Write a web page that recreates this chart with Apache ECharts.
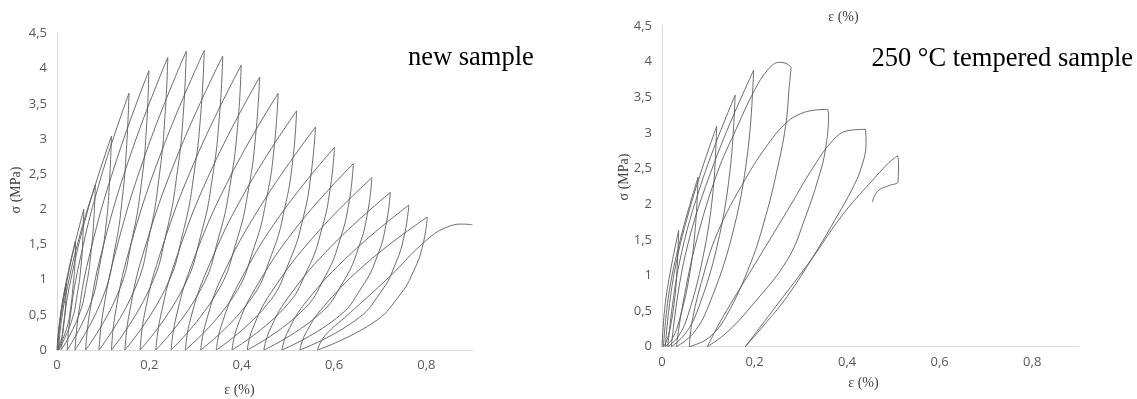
<!DOCTYPE html>
<html>
<head>
<meta charset="utf-8">
<script src="https://cdn.jsdelivr.net/npm/echarts@6/dist/echarts.min.js"></script>
<style>
html,body{margin:0;padding:0;background:#fff;}
#chart{width:1137px;height:399px;}
</style>
</head>
<body>
<div id="chart"></div>
<script>
// Tick values and labels
const xTicks = [0, 0.2, 0.4, 0.6, 0.8];
const xTickLabels = ['0', '0,2', '0,4', '0,6', '0,8'];
const yTicks = [0, 0.5, 1, 1.5, 2, 2.5, 3, 3.5, 4, 4.5];
const yTickLabels = ['0', '0,5', '1', '1,5', '2', '2,5', '3', '3,5', '4', '4,5'];

// New sample: loading branches (strain %, stress MPa)
const newLoading = [
  [[0,0],[0.001,0.11],[0.004,0.31],[0.011,0.64],[0.02,0.95]],
  [[0.001,0],[0.003,0.19],[0.008,0.51],[0.022,1.04],[0.04,1.55]],
  [[0.002,0],[0.004,0.24],[0.013,0.66],[0.033,1.34],[0.058,2.0]],
  [[0.004,0],[0.007,0.28],[0.019,0.78],[0.047,1.57],[0.083,2.35]],
  [[0.009,0],[0.014,0.36],[0.030,1.0],[0.069,2.04],[0.118,3.04]],
  [[0.022,0],[0.028,0.44],[0.047,1.2],[0.095,2.45],[0.156,3.65]],
  [[0.039,0],[0.046,0.48],[0.069,1.31],[0.127,2.66],[0.199,3.97]],
  [[0.062,0],[0.070,0.5],[0.096,1.37],[0.160,2.79],[0.240,4.16]],
  [[0.091,0],[0.099,0.51],[0.127,1.4],[0.195,2.85],[0.280,4.25]],
  [[0.118,0],[0.126,0.51],[0.156,1.41],[0.228,2.85],[0.319,4.26]],
  [[0.147,0],[0.156,0.5],[0.187,1.38],[0.263,2.8],[0.359,4.18]],
  [[0.180,0],[0.189,0.49],[0.222,1.34],[0.300,2.71],[0.399,4.05]],
  [[0.214,0],[0.224,0.47],[0.257,1.28],[0.337,2.6],[0.439,3.88]],
  [[0.247,0],[0.257,0.44],[0.291,1.2],[0.374,2.45],[0.479,3.65]],
  [[0.278,0],[0.288,0.41],[0.324,1.12],[0.410,2.28],[0.519,3.4]],
  [[0.311,0],[0.322,0.38],[0.358,1.05],[0.448,2.12],[0.560,3.17]],
  [[0.345,0],[0.356,0.35],[0.394,0.95],[0.485,1.93],[0.601,2.88]],
  [[0.379,0],[0.390,0.32],[0.429,0.87],[0.523,1.78],[0.642,2.65]],
  [[0.412,0],[0.423,0.29],[0.463,0.81],[0.560,1.64],[0.682,2.45]],
  [[0.448,0],[0.460,0.27],[0.500,0.74],[0.598,1.5],[0.722,2.24]],
  [[0.487,0],[0.499,0.25],[0.539,0.68],[0.638,1.38],[0.762,2.06]],
  [[0.526,0],[0.538,0.23],[0.578,0.62],[0.677,1.27],[0.802,1.89]],
  [[0.564,0],[0.58,0.2],[0.63,0.5],[0.72,1.04],[0.8,1.56],[0.85,1.76],[0.88,1.79],[0.9,1.78]]
];
// New sample: unloading branches
const newUnloading = [
  [[0.02,0.95],[0.019,0.76],[0.018,0.57],[0.015,0.38],[0.011,0.19],[0.001,0]],
  [[0.04,1.55],[0.039,1.24],[0.035,0.93],[0.030,0.62],[0.021,0.31],[0.002,0]],
  [[0.058,2.0],[0.056,1.6],[0.052,1.2],[0.044,0.8],[0.031,0.4],[0.004,0]],
  [[0.083,2.35],[0.080,1.88],[0.074,1.41],[0.064,0.94],[0.046,0.47],[0.009,0]],
  [[0.118,3.04],[0.114,2.43],[0.107,1.82],[0.093,1.22],[0.070,0.61],[0.022,0]],
  [[0.156,3.65],[0.151,2.92],[0.142,2.19],[0.126,1.46],[0.098,0.73],[0.039,0]],
  [[0.199,3.97],[0.194,3.18],[0.183,2.38],[0.163,1.59],[0.131,0.79],[0.062,0]],
  [[0.240,4.16],[0.234,3.33],[0.222,2.5],[0.201,1.66],[0.166,0.83],[0.091,0]],
  [[0.280,4.25],[0.274,3.4],[0.261,2.55],[0.238,1.7],[0.199,0.85],[0.118,0]],
  [[0.319,4.26],[0.312,3.41],[0.298,2.56],[0.274,1.7],[0.233,0.85],[0.147,0]],
  [[0.359,4.18],[0.352,3.34],[0.338,2.51],[0.313,1.67],[0.270,0.84],[0.180,0]],
  [[0.399,4.05],[0.392,3.24],[0.377,2.43],[0.351,1.62],[0.307,0.81],[0.214,0]],
  [[0.439,3.88],[0.431,3.1],[0.416,2.33],[0.389,1.55],[0.343,0.78],[0.247,0]],
  [[0.479,3.65],[0.471,2.92],[0.455,2.19],[0.427,1.46],[0.379,0.73],[0.278,0]],
  [[0.519,3.4],[0.511,2.72],[0.494,2.04],[0.465,1.36],[0.415,0.68],[0.311,0]],
  [[0.560,3.17],[0.551,2.54],[0.534,1.9],[0.504,1.27],[0.453,0.63],[0.345,0]],
  [[0.601,2.88],[0.592,2.3],[0.574,1.73],[0.543,1.15],[0.490,0.58],[0.379,0]],
  [[0.642,2.65],[0.633,2.12],[0.614,1.59],[0.582,1.06],[0.527,0.53],[0.412,0]],
  [[0.682,2.45],[0.673,1.96],[0.654,1.47],[0.621,0.98],[0.565,0.49],[0.448,0]],
  [[0.722,2.24],[0.713,1.79],[0.694,1.34],[0.661,0.9],[0.605,0.45],[0.487,0]],
  [[0.762,2.06],[0.753,1.65],[0.734,1.24],[0.701,0.82],[0.644,0.41],[0.526,0]],
  [[0.802,1.89],[0.793,1.51],[0.773,1.13],[0.740,0.76],[0.683,0.38],[0.564,0]]
];

// 250 °C tempered sample: loading branches
const temperedLoading = [
  [[0,0],[0.006,0.54],[0.019,1.09],[0.036,1.63]],
  [[0.003,0],[0.016,0.79],[0.043,1.59],[0.078,2.38]],
  [[0.007,0],[0.026,1.02],[0.066,2.07],[0.118,3.09]],
  [[0.0125,0],[0.037,1.16],[0.089,2.37],[0.158,3.53]],
  [[0.02,0],[0.050,1.28],[0.114,2.6],[0.198,3.88]],
  [[0.031,0],[0.045,0.6],[0.075,1.5],[0.12,2.45],[0.16,3.05],[0.2,3.6],[0.228,3.88],[0.253,3.99],[0.27,3.97],[0.279,3.92]],
  [[0.059,0],[0.065,0.35],[0.085,0.9],[0.12,1.6],[0.18,2.35],[0.23,2.85],[0.27,3.15],[0.3,3.27],[0.33,3.32],[0.358,3.33]],
  [[0.098,0],[0.13,0.4],[0.2,1.15],[0.27,1.9],[0.33,2.55],[0.37,2.9],[0.4,3.03],[0.44,3.05]],
  [[0.18,0],[0.25,0.6],[0.32,1.2],[0.39,1.85],[0.45,2.3],[0.49,2.58],[0.509,2.68]]
];
// 250 °C tempered sample: unloading branches
const temperedUnloading = [
  [[0.036,1.63],[0.033,1.14],[0.027,0.65],[0.017,0.24],[0.010,0.08],[0.003,0]],
  [[0.078,2.38],[0.072,1.67],[0.058,0.95],[0.037,0.36],[0.023,0.12],[0.007,0]],
  [[0.118,3.09],[0.110,2.16],[0.088,1.24],[0.057,0.46],[0.036,0.15],[0.0125,0]],
  [[0.158,3.53],[0.147,2.47],[0.119,1.41],[0.078,0.53],[0.050,0.18],[0.02,0]],
  [[0.198,3.88],[0.185,2.72],[0.151,1.55],[0.101,0.58],[0.068,0.19],[0.031,0]],
  [[0.279,3.92],[0.275,3.65],[0.267,3.09],[0.247,2.43],[0.224,1.83],[0.192,1.18],[0.138,0.42],[0.1,0.12],[0.059,0]],
  [[0.358,3.33],[0.36,3.25],[0.353,2.76],[0.341,2.43],[0.31,1.82],[0.271,1.22],[0.192,0.56],[0.14,0.2],[0.098,0]],
  [[0.44,3.05],[0.441,2.85],[0.43,2.5],[0.41,2.2],[0.38,1.85],[0.33,1.3],[0.27,0.7],[0.22,0.3],[0.18,0]],
  [[0.509,2.68],[0.511,2.6],[0.51,2.32],[0.49,2.26],[0.469,2.2],[0.458,2.1],[0.455,2.03]]
];

const curveColor = '#5c5c5c';
function tickFmt(ticks, labels) {
  return function (v) {
    for (let i = 0; i < ticks.length; i++) {
      if (Math.abs(v - ticks[i]) < 1e-6) return labels[i];
    }
    return '';
  };
}

const series = [];
function addBranches(list, idx, sm) {
  list.forEach(function (pts) {
    series.push({
      type: 'line', xAxisIndex: idx, yAxisIndex: idx,
      data: pts, smooth: sm, showSymbol: false, symbol: 'none',
      lineStyle: { color: curveColor, width: 0.9 }, silent: true, animation: false
    });
  });
}
addBranches(newLoading, 0, 0.45);
addBranches(newUnloading, 0, 0.5);
addBranches(temperedLoading, 1, 0.4);
addBranches(temperedUnloading, 1, 0.4);

function xAxis(gi) {
  return {
    type: 'value', gridIndex: gi, min: 0, max: 0.9, interval: 0.2,
    axisLine: { show: true, lineStyle: { color: '#d9d9d9', width: 1 } },
    axisTick: { show: false }, splitLine: { show: false },
    axisLabel: { formatter: tickFmt(xTicks, xTickLabels), color: '#595959', fontSize: 13,
      fontFamily: 'Open Sans, Liberation Sans, sans-serif', margin: 9, showMaxLabel: false }
  };
}
function yAxis(gi) {
  return {
    type: 'value', gridIndex: gi, min: 0, max: 4.5, interval: 0.5,
    axisLine: { show: true, lineStyle: { color: '#d9d9d9', width: 1 } },
    axisTick: { show: false }, splitLine: { show: false },
    axisLabel: { formatter: tickFmt(yTicks, yTickLabels), color: '#595959', fontSize: 13,
      fontFamily: 'Open Sans, Liberation Sans, sans-serif', margin: 10 }
  };
}

const serif = 'Liberation Serif, Times New Roman, serif';
const chart = echarts.init(document.getElementById('chart'), null, { renderer: 'canvas' });
chart.setOption({
  animation: false,
  backgroundColor: '#ffffff',
  grid: [
    { left: 57, top: 33.5, width: 415.5, height: 316.5 },
    { left: 662, top: 26, width: 416.5, height: 320.7 }
  ],
  xAxis: [xAxis(0), xAxis(1)],
  yAxis: [yAxis(0), yAxis(1)],
  series: series,
  graphic: [
    { type: 'text', x: 408, y: 58, silent: true,
      style: { text: 'new sample', font: '26.5px ' + serif, fill: '#000', textAlign: 'left', textVerticalAlign: 'middle' } },
    { type: 'text', x: 1133, y: 59, silent: true,
      style: { text: '250 °C tempered sample', font: '26.5px ' + serif, fill: '#000', textAlign: 'right', textVerticalAlign: 'middle' } },
    { type: 'text', x: 239.5, y: 390, silent: true,
      style: { text: 'ε (%)', font: '14px ' + serif, fill: '#404040', textAlign: 'center', textVerticalAlign: 'middle' } },
    { type: 'text', x: 863.5, y: 383, silent: true,
      style: { text: 'ε (%)', font: '14px ' + serif, fill: '#404040', textAlign: 'center', textVerticalAlign: 'middle' } },
    { type: 'text', x: 843.5, y: 17, silent: true,
      style: { text: 'ε (%)', font: '14px ' + serif, fill: '#404040', textAlign: 'center', textVerticalAlign: 'middle' } },
    { type: 'text', x: 16, y: 190, rotation: Math.PI / 2, silent: true,
      style: { text: 'σ (MPa)', font: '14px ' + serif, fill: '#404040', textAlign: 'center', textVerticalAlign: 'middle' } },
    { type: 'text', x: 624, y: 177, rotation: Math.PI / 2, silent: true,
      style: { text: 'σ (MPa)', font: '14px ' + serif, fill: '#404040', textAlign: 'center', textVerticalAlign: 'middle' } }
  ]
});
</script>
</body>
</html>
